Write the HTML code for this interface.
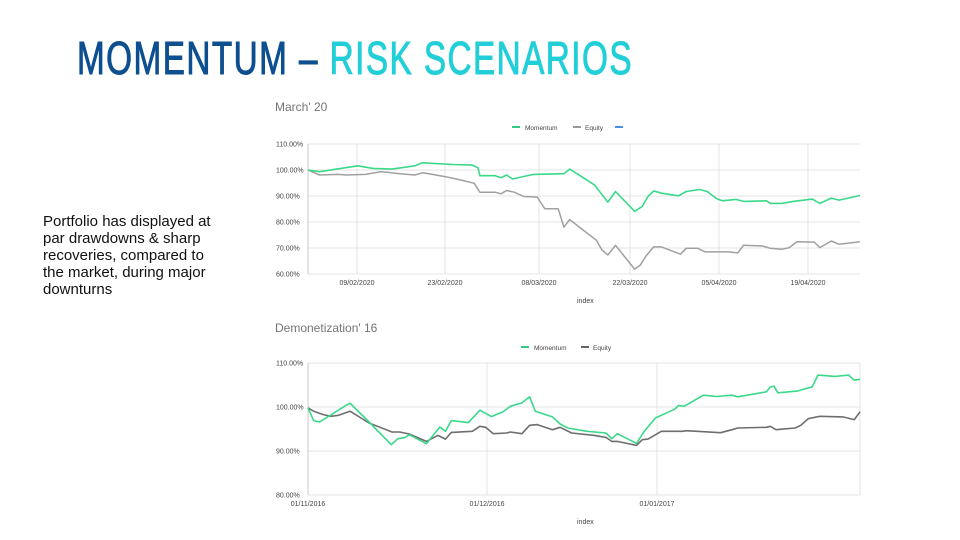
<!DOCTYPE html>
<html><head><meta charset="utf-8"><style>
html,body{margin:0;padding:0;background:#fff}
svg{display:block}
</style></head><body>
<svg id="s" width="960" height="540" xmlns="http://www.w3.org/2000/svg" font-family="Liberation Sans, sans-serif">
<rect width="960" height="540" fill="#fff"/>
<text x="77" y="74" font-size="46" textLength="556" lengthAdjust="spacingAndGlyphs" letter-spacing="2" stroke-width="1"><tspan fill="#0d4f8f" stroke="#0d4f8f">MOMENTUM – </tspan><tspan fill="#22cfd8" stroke="#22cfd8">RISK SCENARIOS</tspan></text>
<g font-size="15" fill="#111">
<text x="43" y="226">Portfolio has displayed at</text>
<text x="43" y="243">par drawdowns &amp; sharp</text>
<text x="43" y="260">recoveries, compared to</text>
<text x="43" y="277">the market, during major</text>
<text x="43" y="294">downturns</text>
</g>
<!-- chart 1 -->
<text x="275" y="111" font-size="12" fill="#757575">March' 20</text>
<g font-size="6.5" fill="#444">
<rect x="512" y="126" width="8" height="2" fill="#2ecc80"/><text x="525" y="130">Momentum</text>
<rect x="573" y="126" width="8" height="2" fill="#999"/><text x="585" y="130">Equity</text>
<rect x="615" y="126" width="8" height="2" fill="#4a90e2"/>
</g>
<g id="g1" stroke="#ddd" stroke-width="0.8"></g>
<g font-size="7" fill="#444" id="l1"></g>
<text x="577" y="303" font-size="7" fill="#444">index</text>
<!-- chart 2 -->
<text x="275" y="332" font-size="12" fill="#757575">Demonetization' 16</text>
<g font-size="6.5" fill="#444">
<rect x="521" y="346" width="8" height="2" fill="#2ecc80"/><text x="534" y="350">Momentum</text>
<rect x="581" y="346" width="8" height="2" fill="#666"/><text x="593" y="350">Equity</text>
</g>
<g id="g2" stroke="#ddd" stroke-width="0.8"></g>
<g font-size="7" fill="#444" id="l2"></g>
<text x="577" y="524" font-size="7" fill="#444">index</text>
<g id="lines"></g>
</svg>
<script>
const NS="http://www.w3.org/2000/svg";
function el(p,t,a,txt){const e=document.createElementNS(NS,t);for(const k in a)e.setAttribute(k,a[k]);if(txt)e.textContent=txt;p.appendChild(e);return e;}
const g1=document.getElementById('g1'),l1=document.getElementById('l1');
const y1=[144,170,196,222,248,274],lab1=['110.00%','100.00%','90.00%','80.00%','70.00%','60.00%'];
y1.forEach((y,i)=>{el(g1,'line',{x1:308,x2:860,y1:y,y2:y});el(l1,'text',{x:276,y:y+2.5},lab1[i]);});
[[357,'09/02/2020'],[445,'23/02/2020'],[539,'08/03/2020'],[630,'22/03/2020'],[719,'05/04/2020'],[808,'19/04/2020']].forEach(([x,t])=>{el(g1,'line',{x1:x,x2:x,y1:144,y2:274});el(l1,'text',{x:x,y:285,'text-anchor':'middle'},t);});
el(g1,'line',{x1:308,x2:308,y1:144,y2:274,stroke:'#bbb'});
const g2=document.getElementById('g2'),l2=document.getElementById('l2');
const y2=[363,407,451,495],lab2=['110.00%','100.00%','90.00%','80.00%'];
y2.forEach((y,i)=>{el(g2,'line',{x1:308,x2:860,y1:y,y2:y});el(l2,'text',{x:276,y:y+2.5},lab2[i]);});
[[487,'01/12/2016'],[657,'01/01/2017']].forEach(([x,t])=>{el(g2,'line',{x1:x,x2:x,y1:363,y2:495});el(l2,'text',{x:x,y:506,'text-anchor':'middle'},t);});
el(g2,'line',{x1:308,x2:308,y1:363,y2:495,stroke:'#bbb'});
el(g2,'line',{x1:860,x2:860,y1:363,y2:495});
el(l2,'text',{x:308,y:506,'text-anchor':'middle'},'01/11/2016');
function mk(pts,y0,y1o){return pts.map(([zx,zy])=>{const x=308+(zx-100)*552/1445;const y=y0+(zy-146)*(y1o-y0)/394;return x.toFixed(1)+','+y.toFixed(1);}).join(' ');}
const m1=[[100,225],[130,230],[230,212],[270,220],[320,222],[380,212],[400,203],[480,208],[530,210],[545,218],[550,242],[590,242],[605,248],[620,240],[635,252],[690,238],[770,236],[785,222],[850,270],[870,300],[885,322],[905,290],[955,350],[975,335],[990,305],[1005,288],[1025,295],[1070,303],[1090,290],[1125,284],[1145,290],[1170,312],[1185,318],[1220,314],[1240,320],[1300,318],[1310,326],[1340,326],[1370,320],[1420,313],[1440,326],[1470,310],[1490,316],[1545,302]];
const e1=[[100,225],[130,240],[180,238],[200,240],[250,238],[290,230],[310,232],[340,236],[380,240],[400,233],[420,237],[460,245],[500,255],[535,265],[550,292],[590,292],[605,297],[620,287],[640,292],[665,305],[700,307],[720,342],[755,342],[770,398],[785,375],[855,438],[870,468],[885,482],[905,453],[955,525],[970,513],[985,485],[1005,458],[1025,458],[1075,480],[1090,462],[1120,462],[1140,473],[1200,473],[1225,476],[1240,453],[1290,455],[1310,462],[1340,465],[1360,460],[1380,442],[1410,443],[1425,443],[1440,460],[1470,440],[1490,450],[1545,442]];
const m2=[[100,280],[115,318],[130,322],[150,308],[200,272],[210,266],[260,322],[318,390],[335,372],[355,368],[365,360],[410,387],[445,337],[460,350],[475,318],[520,324],[550,287],[580,306],[610,292],[630,275],[660,265],[680,247],[695,290],[740,307],[760,328],[780,340],[830,350],[880,355],[895,372],[910,357],[960,386],[980,350],[1010,310],[1060,284],[1070,273],[1085,275],[1135,242],[1170,246],[1210,242],[1225,247],[1300,232],[1310,218],[1320,215],[1330,235],[1380,230],[1420,217],[1435,182],[1480,186],[1515,182],[1530,197],[1545,195]];
const e2=[[100,280],[115,290],[140,300],[160,305],[180,302],[210,290],[260,325],[320,352],[340,352],[365,358],[410,380],[440,362],[460,373],[475,353],[530,350],[550,335],[565,338],[585,357],[620,355],[630,352],[660,357],[680,332],[700,330],[740,345],[760,338],[790,355],[850,362],[880,368],[895,380],[910,380],[960,392],[975,375],[990,373],[1025,350],[1080,350],[1090,348],[1180,354],[1210,345],[1225,340],[1300,338],[1310,335],[1325,345],[1375,340],[1390,332],[1410,312],[1440,305],[1500,307],[1530,315],[1545,292]];
const L=document.getElementById('lines');
el(L,'polyline',{points:mk(e1,144,274),fill:'none',stroke:'#a0a0a0','stroke-width':1.5,'stroke-linejoin':'round'});
el(L,'polyline',{points:mk(m1,144,274),fill:'none',stroke:'#3ad98a','stroke-width':1.6,'stroke-linejoin':'round'});
el(L,'polyline',{points:mk(e2,363,495),fill:'none',stroke:'#6e6e6e','stroke-width':1.6,'stroke-linejoin':'round'});
el(L,'polyline',{points:mk(m2,363,495),fill:'none',stroke:'#3ad98a','stroke-width':1.6,'stroke-linejoin':'round'});
</script>
</body></html>
